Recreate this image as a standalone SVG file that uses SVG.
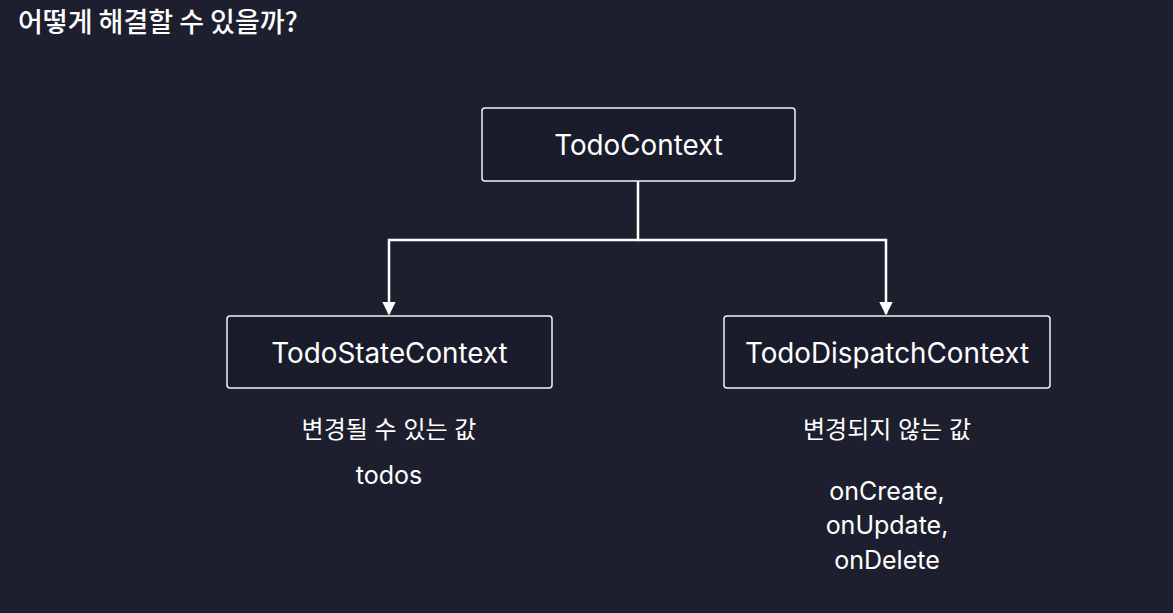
<svg xmlns="http://www.w3.org/2000/svg" width="1173" height="613" viewBox="0 0 1173 613">
  <defs>
    <style>
      .bg { fill: #1e1f2e; }
      .box { fill: #1b1c2b; stroke: #f2f2f2; stroke-width: 1.5; }
      .lbl { font-family: Inter, "Noto Sans CJK KR", "Noto Sans", sans-serif; fill: #ffffff; text-anchor: middle; }
      .node { font-size: 27.8px; }
      .note { font-size: 24px; }
      .code { font-size: 25px; }
      .conn { fill: none; stroke: #ffffff; stroke-width: 2.5; }
    </style>
    <marker id="arrow" viewBox="0 0 10 10" refX="9" refY="5" markerWidth="5.5" markerHeight="5.5" markerUnits="strokeWidth" orient="auto">
      <path d="M0,0 L10,5 L0,10 z" fill="#ffffff"/>
    </marker>
  </defs>
  <rect class="bg" x="0" y="0" width="1173" height="613"/>
  <text x="18" y="32" font-family="'Noto Sans CJK KR', sans-serif" font-size="27" font-weight="500" fill="#ffffff">어떻게 해결할 수 있을까?</text>

  <g id="connectors">
    <path class="conn" d="M638,181 V240 H389 V314" marker-end="url(#arrow)"/>
    <path class="conn" d="M638,240 H886 V314" marker-end="url(#arrow)"/>
  </g>

  <g id="todo-context">
    <rect class="box" x="482" y="108" width="313" height="73" rx="3"/>
    <text class="lbl node" x="638.5" y="155">TodoContext</text>
  </g>

  <g id="todo-state-context">
    <rect class="box" x="227" y="316" width="325" height="72" rx="3"/>
    <text class="lbl node" x="389.5" y="363">TodoStateContext</text>
    <text class="lbl note" x="389" y="438">변경될 수 있는 값</text>
    <text class="lbl code" x="389" y="484">todos</text>
  </g>

  <g id="todo-dispatch-context">
    <rect class="box" x="724" y="316" width="326" height="72" rx="3"/>
    <text class="lbl node" x="887" y="363">TodoDispatchContext</text>
    <text class="lbl note" x="887" y="438">변경되지 않는 값</text>
    <text class="lbl code" x="887" y="500">onCreate,</text>
    <text class="lbl code" x="887" y="534">onUpdate,</text>
    <text class="lbl code" x="887" y="569">onDelete</text>
  </g>
</svg>
